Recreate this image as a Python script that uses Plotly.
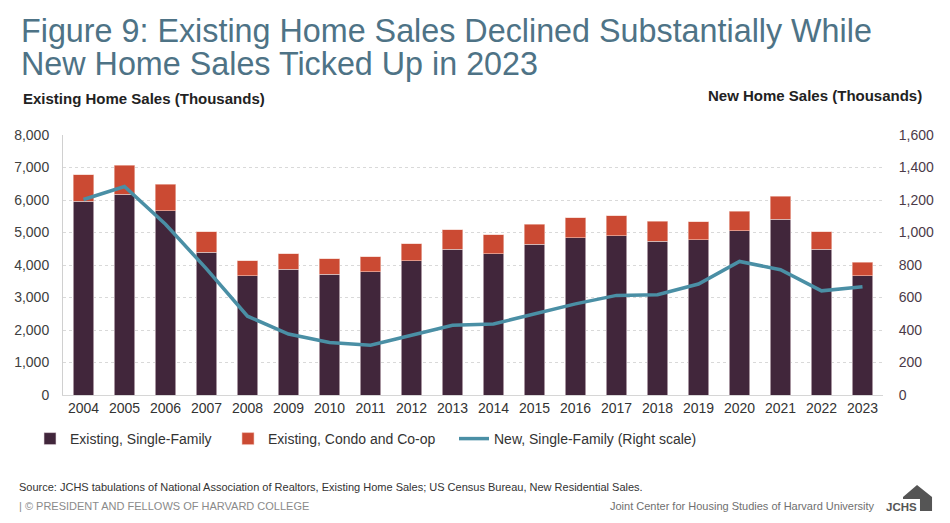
import plotly.graph_objects as go

years = [str(y) for y in range(2004, 2024)]
existing_single_family = [5958, 6180, 5677, 4398, 3665, 3870, 3708, 3787, 4128, 4484,
                          4344, 4645, 4835, 4900, 4735, 4770, 5060, 5410, 4485, 3665]
existing_condo_coop = [820, 896, 801, 622, 459, 470, 482, 473, 532, 606,
                       591, 605, 615, 610, 605, 565, 590, 710, 545, 420]
new_single_family = [1203, 1283, 1051, 776, 485, 375, 323, 306, 368, 429,
                     437, 501, 561, 613, 617, 683, 822, 771, 641, 666]

left_ticks = list(range(0, 8001, 1000))
right_ticks = list(range(0, 1601, 200))

FONT = "Liberation Sans, Arial, sans-serif"
W, H = 950, 523
L, R, T, B = 63, 67, 135, 128

fig = go.Figure()
fig.add_trace(go.Bar(
    x=years, y=existing_single_family, name="Existing, Single-Family",
    marker=dict(color="#41263B", line=dict(color="#eadde2", width=0.6)),
    width=0.5, yaxis="y", legendwidth=153))
fig.add_trace(go.Bar(
    x=years, y=existing_condo_coop, name="Existing, Condo and Co-op",
    marker=dict(color="#CB4A33", line=dict(color="#f1c9c0", width=0.6)),
    width=0.5, yaxis="y", legendwidth=181))
fig.add_trace(go.Scatter(
    x=years, y=new_single_family, name="New, Single-Family (Right scale)",
    mode="lines", line=dict(color="#4A8FA5", width=3.5), yaxis="y2"))

def px_x(px):
    return (px - L) / (W - L - R)

def px_y(py):
    return (H - B - py) / (H - T - B)

annotations = []
def ann(text, xpx, ybase, size, color, anchor="left", bold=False):
    annotations.append(dict(
        text=("<b>%s</b>" % text) if bold else text,
        x=px_x(xpx), y=px_y(ybase + size * 0.22), xref="paper", yref="paper",
        xanchor=anchor, yanchor="bottom", showarrow=False,
        font=dict(family=FONT, size=size, color=color)))

ann("Figure 9: Existing Home Sales Declined Substantially While", 19, 44, 32.3, "#4E7386")
ann("New Home Sales Ticked Up in 2023", 19, 77, 32.3, "#4E7386")
ann("Existing Home Sales (Thousands)", 21, 106, 15, "#222222", bold=True)
ann("New Home Sales (Thousands)", 924, 103, 15, "#222222", anchor="right", bold=True)
ann("Source: JCHS tabulations of National Association of Realtors, Existing Home Sales; US Census Bureau, New Residential Sales.",
    17, 493, 11, "#333333")
ann("| © PRESIDENT AND FELLOWS OF HARVARD COLLEGE", 17, 512, 11, "#8a8a8a")
ann("Joint Center for Housing Studies of Harvard University", 877, 512, 11, "#6f6f6f", anchor="right")
ann("JCHS", 919, 512, 11.5, "#555555", anchor="right", bold=True)

pts = [(903, 497), (917, 485), (932, 497), (932, 511), (920, 511), (920, 499), (903, 499)]
path = "M " + " L ".join("%.4f,%.4f" % (px_x(a), px_y(b)) for a, b in pts) + " Z"
shapes = [dict(type="path", path=path, xref="paper", yref="paper",
               fillcolor="#555555", line=dict(width=0))]

fig.update_layout(
    width=W, height=H, autosize=False,
    margin=dict(l=L, r=R, t=T, b=B, pad=0, autoexpand=False),
    paper_bgcolor="white", plot_bgcolor="white",
    barmode="stack", bargap=0.5,
    font=dict(family=FONT, size=14, color="#404040"),
    showlegend=True,
    legend=dict(orientation="h", xref="container", yref="container",
                x=30 / W, y=1 - 439 / H, xanchor="left", yanchor="middle",
                font=dict(family=FONT, size=14, color="#333333"),
                itemwidth=30, traceorder="normal", bgcolor="rgba(0,0,0,0)"),
    xaxis=dict(type="category", showline=True, linecolor="#d6d6d6", linewidth=1,
               ticks="", showgrid=False, tickfont=dict(size=14, color="#333333"),
               fixedrange=True, automargin=False),
    yaxis=dict(range=[0, 8000], tickvals=left_ticks, tickformat=",",
               showgrid=True, gridcolor="#d9d9d9", griddash="dot", gridwidth=1,
               showline=True, linecolor="#d0d0d0", zeroline=False,
               ticks="outside", ticklen=10, tickcolor="rgba(0,0,0,0)",
               tickfont=dict(size=14, color="#404040"), automargin=False),
    yaxis2=dict(range=[0, 1600], tickvals=right_ticks, tickformat=",",
                overlaying="y", side="right", showgrid=False, zeroline=False,
                showline=False, ticks="outside", ticklen=2, tickcolor="rgba(0,0,0,0)",
                ticklabelstandoff=10,
                tickfont=dict(size=14, color="#4B3A48"), automargin=False),
    annotations=annotations,
    shapes=shapes,
)

fig.write_html("out.html", config={"displayModeBar": False},
               post_script="document.body.style.margin='0';")
